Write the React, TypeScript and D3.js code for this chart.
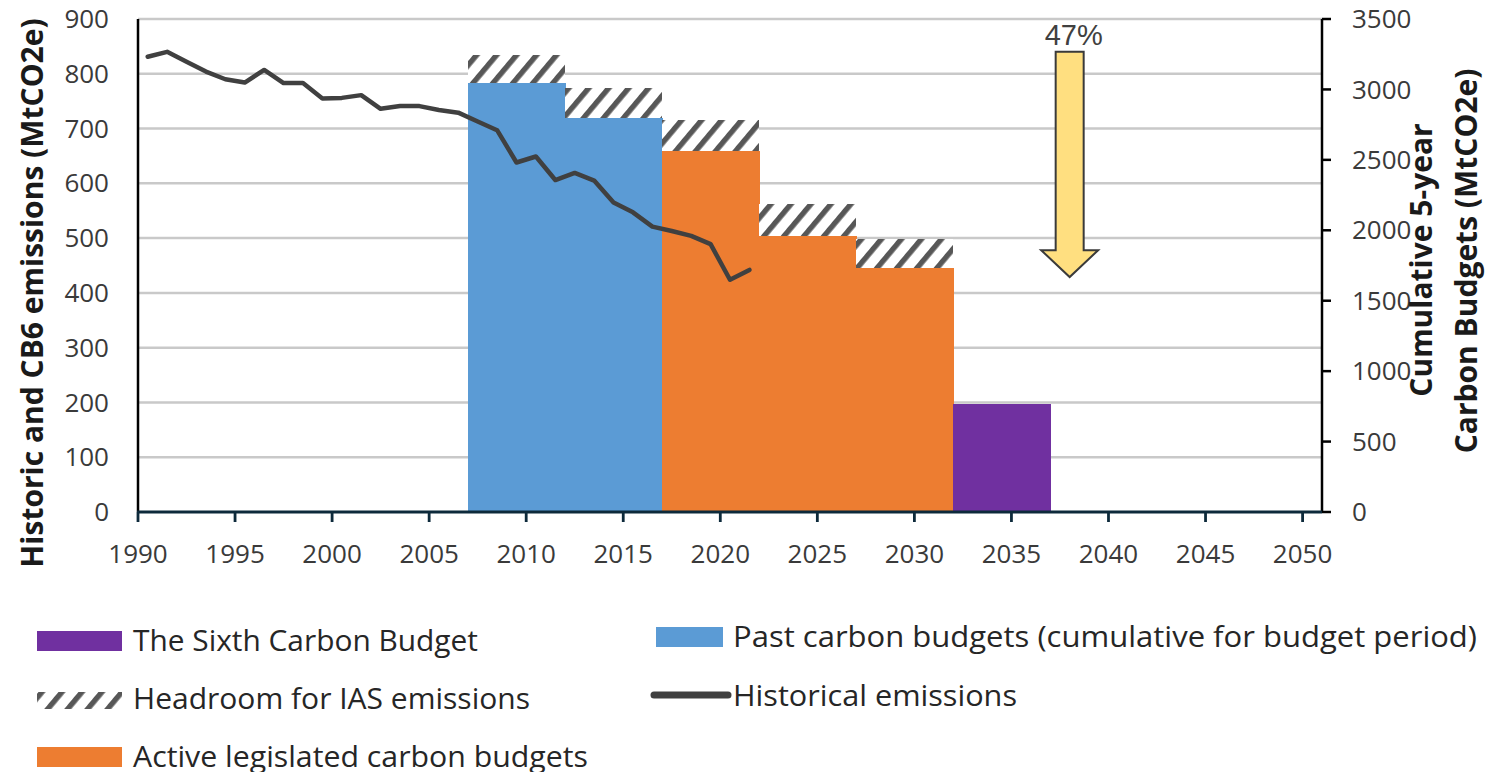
import * as d3 from 'd3';

// historical emissions (MtCO2e, left axis), one point per year from 1990
const histStart = 1990;
const histEmissions = [
  831, 840, 822, 804, 790, 784, 807, 783, 783, 755, 756, 761, 736, 741, 741, 734,
  729, 713, 697, 638, 649, 606, 619, 605, 565, 547, 521, 513, 504, 489, 424, 442,
];

// carbon budgets (cumulative 5-year, right axis)
const budgetStart = [2007, 2012, 2017, 2022, 2027, 2032];
const budgetValues = [3045, 2800, 2565, 1960, 1735, 767];
const budgetHeadroom = [200, 210, 220, 227, 200, 0];
const budgetKind = ['past', 'past', 'active', 'active', 'active', 'sixth'];

const leftTicks = [0, 100, 200, 300, 400, 500, 600, 700, 800, 900];
const rightTicks = [0, 500, 1000, 1500, 2000, 2500, 3000, 3500];
const xTicks = [1990, 1995, 2000, 2005, 2010, 2015, 2020, 2025, 2030, 2035, 2040, 2045, 2050];

// "47%" reduction arrow (left axis units)
const arrowYear = 2038;
const arrowFrom = 840;
const arrowHead = 478;
const arrowTo = 429;
const arrowLabel = '47%';

const colors: Record<string, string> = {
  past: '#5b9bd5',
  active: '#ed7d31',
  sixth: '#7030a0',
};

const font = '"Open Sans", "DejaVu Sans", sans-serif';

export default function App() {
  const W = 1486;
  const H = 772;
  const x = d3.scaleLinear().domain([1990, 2051]).range([138, 1322]);
  const yL = d3.scaleLinear().domain([0, 900]).range([512, 19]);
  const yR = d3.scaleLinear().domain([0, 3500]).range([512, 19]);

  const line = d3
    .line<number>()
    .x((_, i) => x(histStart + i + 0.5))
    .y((d) => yL(d));

  const ax = x(arrowYear);
  const shaft = 14;
  const head = 28.5;
  const arrowPts = [
    [ax - shaft, yL(arrowFrom)],
    [ax + shaft, yL(arrowFrom)],
    [ax + shaft, yL(arrowHead)],
    [ax + head, yL(arrowHead)],
    [ax, yL(arrowTo)],
    [ax - head, yL(arrowHead)],
    [ax - shaft, yL(arrowHead)],
  ];

  const legend = [
    { kind: 'rect', color: colors.sixth, label: 'The Sixth Carbon Budget', sx: 37, y: 651, w: 345 },
    { kind: 'hatch', color: '', label: 'Headroom for IAS emissions', sx: 37, y: 709, w: 397 },
    { kind: 'rect', color: colors.active, label: 'Active legislated carbon budgets', sx: 37, y: 767, w: 455 },
    { kind: 'rect', color: colors.past, label: 'Past carbon budgets (cumulative for budget period)', sx: 656, y: 647, w: 744 },
    { kind: 'line', color: '#404040', label: 'Historical emissions', sx: 654, y: 706, w: 284 },
  ];

  return (
    <svg
      width={W}
      height={H}
      style={{ position: 'absolute', left: 0, top: 0, background: '#fff' }}
      fontFamily={font}
    >
      <defs>
        <pattern
          id="hatch"
          patternUnits="userSpaceOnUse"
          width={15.3}
          height={15.3}
          patternTransform="rotate(40)"
        >
          <rect width={15.3} height={15.3} fill="#fff" />
          <rect x={0} y={0} width={5.4} height={15.3} fill="#575757" />
        </pattern>
      </defs>

      {/* gridlines */}
      {leftTicks.slice(1).map((t) => (
        <line key={t} x1={x(1990)} x2={x(2051)} y1={yL(t)} y2={yL(t)} stroke="#c9c9c9" strokeWidth={2.5} />
      ))}

      {/* budgets */}
      {budgetStart.map((s, i) => (
        <g key={s} shapeRendering="crispEdges">
          <rect
            x={x(s)}
            width={x(s + 5) - x(s) + 0.5}
            y={yR(budgetValues[i])}
            height={yR(0) - yR(budgetValues[i])}
            fill={colors[budgetKind[i]]}
          />
          {budgetHeadroom[i] > 0 && (
            <rect
              x={x(s)}
              width={x(s + 5) - x(s)}
              y={yR(budgetValues[i] + budgetHeadroom[i])}
              height={yR(budgetValues[i]) - yR(budgetValues[i] + budgetHeadroom[i])}
              fill="url(#hatch)"
            />
          )}
        </g>
      ))}

      {/* historical emissions */}
      <path d={line(histEmissions) ?? ''} fill="none" stroke="#404040" strokeWidth={4.5} strokeLinejoin="round" strokeLinecap="round" />

      {/* left axis */}
      <line x1={x(1990)} x2={x(1990)} y1={yL(900)} y2={yL(0)} stroke="#000" strokeWidth={2.5} />
      {leftTicks.map((t) => (
        <text key={t} x={109} y={yL(t)} dy="0.35em" textAnchor="end" fontSize={26} fill="#3a3a3a">
          {t}
        </text>
      ))}

      {/* right axis */}
      <line x1={x(2051)} x2={x(2051)} y1={yR(3500)} y2={yR(0)} stroke="#000" strokeWidth={2.5} />
      {rightTicks.map((t) => (
        <g key={t}>
          <line x1={x(2051)} x2={x(2051) + 9} y1={yR(t)} y2={yR(t)} stroke="#000" strokeWidth={2.5} />
          <text x={1352} y={yR(t)} dy="0.35em" fontSize={26} fill="#3a3a3a">
            {t}
          </text>
        </g>
      ))}

      {/* bottom axis */}
      <line x1={x(1990) - 1} x2={x(2051)} y1={yL(0)} y2={yL(0)} stroke="#0d2a3b" strokeWidth={2.8} />
      {xTicks.map((t) => (
        <g key={t}>
          <line x1={x(t)} x2={x(t)} y1={yL(0)} y2={yL(0) + 10} stroke="#0d2a3b" strokeWidth={2.8} />
          <text x={x(t)} y={563} textAnchor="middle" fontSize={26} fill="#3a3a3a">
            {t}
          </text>
        </g>
      ))}

      {/* axis titles */}
      <text
        transform="translate(43,293) rotate(-90)"
        textAnchor="middle"
        fontSize={30}
        fontWeight="bold"
        fill="#1a1a1a"
      >
        Historic and CB6 emissions (MtCO2e)
      </text>
      <text
        transform="translate(1432,260) rotate(-90)"
        textAnchor="middle"
        fontSize={30}
        fontWeight="bold"
        fill="#1a1a1a"
      >
        Cumulative 5-year
      </text>
      <text
        transform="translate(1477,261) rotate(-90)"
        textAnchor="middle"
        fontSize={30}
        fontWeight="bold"
        fill="#1a1a1a"
      >
        Carbon Budgets (MtCO2e)
      </text>

      {/* reduction arrow */}
      <polygon
        points={arrowPts.map((p) => p.join(',')).join(' ')}
        fill="#ffdf80"
        stroke="#3a3a3a"
        strokeWidth={2}
        strokeLinejoin="miter"
      />
      <text
        x={ax + 4}
        y={45}
        textAnchor="middle"
        fontSize={29}
        fontFamily='"Liberation Sans", Arial, sans-serif'
        fill="#404040"
      >
        {arrowLabel}
      </text>

      {/* legend */}
      {legend.map((l) => (
        <g key={l.label}>
          {l.kind === 'rect' && <rect x={l.sx} y={l.y - 20} width={l.sx > 600 ? 67 : 85} height={20} fill={l.color} />}
          {l.kind === 'hatch' && <rect x={l.sx} y={l.y - 17} width={85} height={17} fill="url(#hatch)" />}
          {l.kind === 'line' && (
            <line x1={l.sx} x2={728} y1={l.y - 11} y2={l.y - 11} stroke={l.color} strokeWidth={7} strokeLinecap="round" />
          )}
          <text
            x={l.sx > 600 ? 733 : 133}
            y={l.y}
            fontSize={29}
            fill="#262626"
            textLength={l.w}
            lengthAdjust="spacingAndGlyphs"
          >
            {l.label}
          </text>
        </g>
      ))}
    </svg>
  );
}
